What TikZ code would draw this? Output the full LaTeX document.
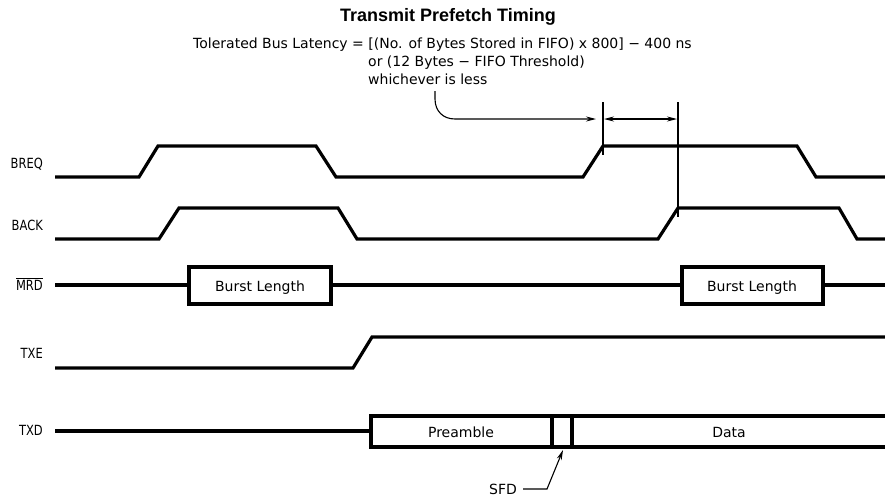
\documentclass[tikz,border=0pt]{standalone}
\usepackage{fontspec}
\setmainfont{DejaVu Sans}
\newfontfamily\labfont{DejaVu Sans}[FakeStretch=0.82]
\newfontfamily\titlefont{Liberation Sans}
\usetikzlibrary{arrows.meta}
\begin{document}
\begin{tikzpicture}[x=1pt,y=-1pt,
  sig/.style={line width=3.2pt},
  thinline/.style={line width=1.1pt},
  lab/.style={anchor=base east,inner sep=0pt,font=\labfont\fontsize{14}{14}\selectfont},
  txt/.style={inner sep=0pt,font=\fontsize{14}{16}\selectfont},
  arr/.style={-{Stealth[length=10pt,width=5pt]}, line width=1.1pt},
  darr/.style={{Stealth[length=10pt,width=5pt]}-{Stealth[length=10pt,width=5pt]}, line width=1.1pt}]
\useasboundingbox (0,0) rectangle (885,498);
% title and formula
\node[inner sep=0pt,anchor=base,font=\titlefont\bfseries\fontsize{18}{18}\selectfont] (title) at (448,21) {Transmit Prefetch Timing};
\node[txt,anchor=base west] (f1) at (193,48) {Tolerated Bus Latency = [(No. of Bytes Stored in FIFO) x 800] − 400 ns};
\node[txt,anchor=base west] (f2) at (368,66) {or (12 Bytes − FIFO Threshold)};
\node[txt,anchor=base west] (f3) at (368,84) {whichever is less};
% labels
\node[lab] (lbreq) at (43,168) {BREQ};
\node[lab] (lback) at (43,230) {BACK};
\node[lab] (lmrd) at (43,290) {$\overline{\mbox{\labfont\fontsize{14}{14}\selectfont MRD}}$};
\node[lab] (ltxe) at (43,358) {TXE};
\node[lab] (ltxd) at (43,435) {TXD};
% BREQ
\draw[sig] (55,177) -- (139,177) -- (158,146) -- (316,146) -- (336,177) -- (583,177) -- (603,146) -- (797,146) -- (816,177) -- (885,177);
% BACK
\draw[sig] (55,239) -- (159,239) -- (179,208) -- (338,208) -- (357,239) -- (658,239) -- (678,208) -- (839,208) -- (857,239) -- (885,239);
% MRD
\draw[sig] (55,285) -- (189,285);
\draw[sig] (189,267) rectangle (331,304);
\draw[sig] (331,285) -- (682,285);
\draw[sig] (682,267) rectangle (823,304);
\draw[sig] (823,285) -- (885,285);
\node[txt,anchor=base] (b1) at (260,291) {Burst Length};
\node[txt,anchor=base] (b2) at (752,291) {Burst Length};
% TXE
\draw[sig] (55,368) -- (353,368) -- (372,337) -- (885,337);
% TXD
\draw[sig] (55,431) -- (371,431);
\draw[sig] (885,416) -- (371,416) -- (371,447) -- (885,447);
\draw[sig] (552,416) -- (552,447);
\draw[sig] (572,416) -- (572,447);
\node[txt,anchor=base] (pre) at (461,437) {Preamble};
\node[txt,anchor=base] (data) at (729,437) {Data};
\node[txt,anchor=base] (sfd) at (503,494) {SFD};
% latency markers
\coordinate (v1t) at (603,102); \coordinate (v1b) at (603,155);
\coordinate (v2t) at (678,102); \coordinate (v2b) at (678,217);
\draw[thinline] (v1t) -- (v1b);
\draw[thinline] (v2t) -- (v2b);
\coordinate (da) at (604,119); \coordinate (db) at (677,119);
\draw[darr] (da) -- (db);
\coordinate (cs) at (435,91); \coordinate (ce) at (596,119);
\draw[arr] (cs) -- (435,99) .. controls (435,111) and (443,119) .. (455,119) -- (ce);
% SFD leader
\coordinate (s1) at (523,489); \coordinate (s2) at (547,489); \coordinate (s3) at (563,450);
\draw[arr] (s1) -- (s2) -- (s3);
\end{tikzpicture}
\end{document}
